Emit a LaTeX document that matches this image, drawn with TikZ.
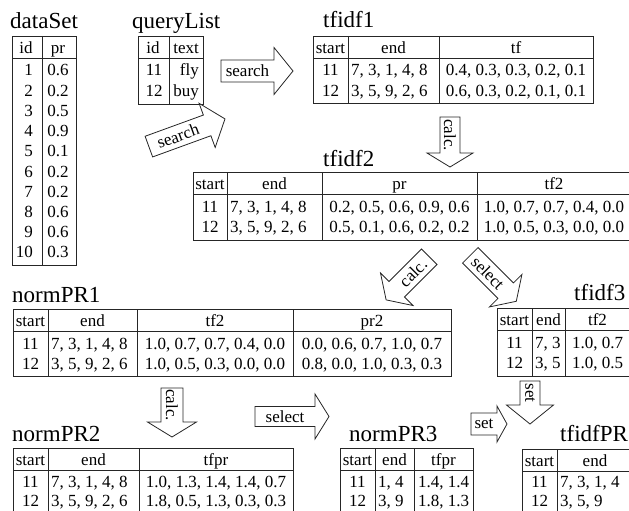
\documentclass[tikz,border=0pt]{standalone}
\usepackage{fontspec}
\setmainfont{Liberation Serif}
\newcommand{\blockarrow}[8]{%
  \begin{scope}[shift={(#2,#3)}, rotate=#4]
    \coordinate (#1) at (0,0);
    \draw[arr] (-#5/2,-#7) -- (#5/2,-#7) -- (#5/2,-#8) -- (#5/2+#6,0) -- (#5/2,#8) -- (#5/2,#7) -- (-#5/2,#7) -- cycle;
  \end{scope}}
\begin{document}
\begin{tikzpicture}[x=1pt,y=-1pt,
  tline/.style={line width=0.9pt, draw=black!85},
  arr/.style={line width=0.8pt, draw=black!85, fill=white, line join=miter},
  cell/.style={font=\fontsize{17}{20}\selectfont, inner sep=0pt, anchor=base},
  lcell/.style={cell, anchor=base west},
  rcell/.style={cell, anchor=base east},
  lbl/.style={font=\fontsize{17}{20}\selectfont, inner sep=0pt},
  ttl/.style={font=\fontsize{23}{26}\selectfont, inner sep=0pt, anchor=base west}]
\useasboundingbox (0,0) rectangle (629,511);
\clip (0,0) rectangle (629,511);

% ---------------- dataSet
\node[ttl] (dsT) at (10,29) {dataSet};
\draw[tline] (12,36) rectangle (76,265);
\draw[tline] (12,58) -- (76,58);
\draw[tline] (42,36) -- (42,265);
\node[cell] (dsH1) at (26,53) {id};
\node[cell] (dsH2) at (58,53) {pr};
\foreach \i/\v [count=\k] in {1/0.6,2/0.2,3/0.5,4/0.9,5/0.1,6/0.2,7/0.2,8/0.6,9/0.6,10/0.3}{
  \node[rcell] (dsI\k) at (33,{76+20.2*(\k-1)}) {\i};
  \node[cell] (dsP\k) at (58,{76+20.2*(\k-1)}) {\v};
}

% ---------------- queryList
\node[ttl] (qlT) at (132,29) {queryList};
\draw[tline] (138,36) rectangle (203,104);
\draw[tline] (138,58) -- (203,58);
\draw[tline] (169,36) -- (169,104);
\node[cell] (qlH1) at (153,53) {id};
\node[rcell] (qlH2) at (199,53) {text};
\node[cell] (ql11) at (154,76) {11};
\node[rcell] (qlA) at (199,76) {fly};
\node[cell] (ql12) at (154,96) {12};
\node[rcell] (qlB) at (199,96) {buy};

% ---------------- tfidf1
\node[ttl] (t1T) at (323,28) {tfidf1};
\draw[tline] (313,36) rectangle (593,103);
\draw[tline] (313,58) -- (593,58);
\draw[tline] (348,36) -- (348,103);
\draw[tline] (439,36) -- (439,103);
\node[cell] (t1H1) at (330.5,53) {start};
\node[cell] (t1H2) at (393.5,53) {end};
\node[cell] (t1H3) at (516,53) {tf};
\node[cell] (t1a) at (330.5,76) {11};
\node[lcell] (t1b) at (351,76) {7, 3, 1, 4, 8};
\node[cell] (t1c) at (516,76) {0.4, 0.3, 0.3, 0.2, 0.1};
\node[cell] (t1d) at (330.5,96) {12};
\node[lcell] (t1e) at (351,96) {3, 5, 9, 2, 6};
\node[cell] (t1f) at (516,96) {0.6, 0.3, 0.2, 0.1, 0.1};

% ---------------- tfidf2
\node[ttl] (t2T) at (323,166) {tfidf2};
\draw[tline] (193,172) rectangle (640,240);
\draw[tline] (193,194) -- (640,194);
\foreach \x in {227,322,477} \draw[tline] (\x,172) -- (\x,240);
\node[cell] (t2H1) at (210,189) {start};
\node[cell] (t2H2) at (274.5,189) {end};
\node[cell] (t2H3) at (399.5,189) {pr};
\node[cell] (t2H4) at (554,189) {tf2};
\node[cell] (t2a) at (210,212) {11};
\node[lcell] (t2b) at (230,212) {7, 3, 1, 4, 8};
\node[cell] (t2c) at (399.5,212) {0.2, 0.5, 0.6, 0.9, 0.6};
\node[cell] (t2d) at (554,212) {1.0, 0.7, 0.7, 0.4, 0.0};
\node[cell] (t2e) at (210,232) {12};
\node[lcell] (t2f) at (230,232) {3, 5, 9, 2, 6};
\node[cell] (t2g) at (399.5,232) {0.5, 0.1, 0.6, 0.2, 0.2};
\node[cell] (t2h) at (554,232) {1.0, 0.5, 0.3, 0.0, 0.0};

% ---------------- normPR1
\node[ttl] (n1T) at (12,302) {normPR1};
\draw[tline] (13,309) rectangle (451,376);
\draw[tline] (13,331) -- (451,331);
\foreach \x in {48,137,293} \draw[tline] (\x,309) -- (\x,376);
\node[cell] (n1H1) at (30.5,326) {start};
\node[cell] (n1H2) at (92.5,326) {end};
\node[cell] (n1H3) at (215,326) {tf2};
\node[cell] (n1H4) at (372,326) {pr2};
\node[cell] (n1a) at (30.5,349) {11};
\node[lcell] (n1b) at (51,349) {7, 3, 1, 4, 8};
\node[cell] (n1c) at (215,349) {1.0, 0.7, 0.7, 0.4, 0.0};
\node[cell] (n1d) at (372,349) {0.0, 0.6, 0.7, 1.0, 0.7};
\node[cell] (n1e) at (30.5,369) {12};
\node[lcell] (n1f) at (51,369) {3, 5, 9, 2, 6};
\node[cell] (n1g) at (215,369) {1.0, 0.5, 0.3, 0.0, 0.0};
\node[cell] (n1h) at (372,369) {0.8, 0.0, 1.0, 0.3, 0.3};

% ---------------- tfidf3
\node[ttl] (t3T) at (574,300) {tfidf3};
\draw[tline] (497,308) rectangle (640,376);
\draw[tline] (497,330) -- (640,330);
\foreach \x in {532,565} \draw[tline] (\x,308) -- (\x,376);
\node[cell] (t3H1) at (514.5,325) {start};
\node[cell] (t3H2) at (548.5,325) {end};
\node[cell] (t3H3) at (597.5,325) {tf2};
\node[cell] (t3a) at (514.5,348) {11};
\node[lcell] (t3b) at (535,348) {7, 3};
\node[cell] (t3c) at (597.5,348) {1.0, 0.7};
\node[cell] (t3d) at (514.5,368) {12};
\node[lcell] (t3e) at (535,368) {3, 5};
\node[cell] (t3f) at (597.5,368) {1.0, 0.5};

% ---------------- normPR2
\node[ttl] (n2T) at (12,441) {normPR2};
\draw[tline] (13,448) rectangle (293,530);
\draw[tline] (13,470) -- (293,470);
\foreach \x in {48,139} \draw[tline] (\x,448) -- (\x,530);
\node[cell] (n2H1) at (30.5,465) {start};
\node[cell] (n2H2) at (93.5,465) {end};
\node[cell] (n2H3) at (216,465) {tfpr};
\node[cell] (n2a) at (30.5,487) {11};
\node[lcell] (n2b) at (51,487) {7, 3, 1, 4, 8};
\node[cell] (n2c) at (216,487) {1.0, 1.3, 1.4, 1.4, 0.7};
\node[cell] (n2d) at (30.5,506) {12};
\node[lcell] (n2e) at (51,506) {3, 5, 9, 2, 6};
\node[cell] (n2f) at (216,506) {1.8, 0.5, 1.3, 0.3, 0.3};

% ---------------- normPR3
\node[ttl] (n3T) at (349,441) {normPR3};
\draw[tline] (340,448) rectangle (473,530);
\draw[tline] (340,470) -- (473,470);
\foreach \x in {375,414} \draw[tline] (\x,448) -- (\x,530);
\node[cell] (n3H1) at (357.5,465) {start};
\node[cell] (n3H2) at (394.5,465) {end};
\node[cell] (n3H3) at (443.5,465) {tfpr};
\node[cell] (n3a) at (357.5,487) {11};
\node[lcell] (n3b) at (378,487) {1, 4};
\node[cell] (n3c) at (443.5,487) {1.4, 1.4};
\node[cell] (n3d) at (357.5,506) {12};
\node[lcell] (n3e) at (378,506) {3, 9};
\node[cell] (n3f) at (443.5,506) {1.8, 1.3};

% ---------------- tfidfPR
\node[ttl] (tpT) at (560,441) {tfidfPR};
\draw[tline] (522,449) rectangle (640,530);
\draw[tline] (522,471) -- (640,471);
\draw[tline] (557,449) -- (557,530);
\node[cell] (tpH1) at (539.5,466) {start};
\node[cell] (tpH2) at (595,466) {end};
\node[cell] (tpa) at (539.5,487) {11};
\node[lcell] (tpb) at (560,487) {7, 3, 1, 4};
\node[cell] (tpd) at (539.5,506) {12};
\node[lcell] (tpe) at (560,506) {3, 5, 9};

% ---------------- block arrows
\blockarrow{aSearchH}{247.5}{71}{0}{53}{19}{11}{23.5}
\node[lbl] (lSearchH) at (aSearchH) {search};
\blockarrow{aSearchD}{178}{136}{20}{62}{19}{11}{23.5}
\node[lbl, rotate=20] (lSearchD) at (aSearchD) {search};
\blockarrow{aCalcT}{450}{135}{-90}{36}{14}{10}{23}
\node[lbl, rotate=-90] (lCalcT) at (aCalcT) {calc.};
\blockarrow{aCalcD}{413}{273}{225}{46}{15}{11}{23}
\node[lbl, rotate=45] (lCalcD) at (aCalcD) {calc.};
\blockarrow{aSelectD}{488}{273}{-45}{50}{15}{11}{23}
\node[lbl, rotate=-45] (lSelectD) at (aSelectD) {select};
\blockarrow{aCalcM}{172}{405}{-90}{34}{15}{11}{24.5}
\node[lbl, rotate=-90] (lCalcM) at (aCalcM) {calc.};
\blockarrow{aSelectH}{285}{416.5}{0}{60}{14}{10}{22.5}
\node[lbl] (lSelectH) at (aSelectH) {select};
\blockarrow{aSetD}{530}{393}{-90}{24}{19}{10}{23.5}
\node[lbl, rotate=-90] (lSetD) at (aSetD) {set};
\blockarrow{aSetH}{484}{424}{0}{26}{10}{11}{18}
\node[lbl] (lSetH) at (aSetH) {set};
\end{tikzpicture}
\end{document}
